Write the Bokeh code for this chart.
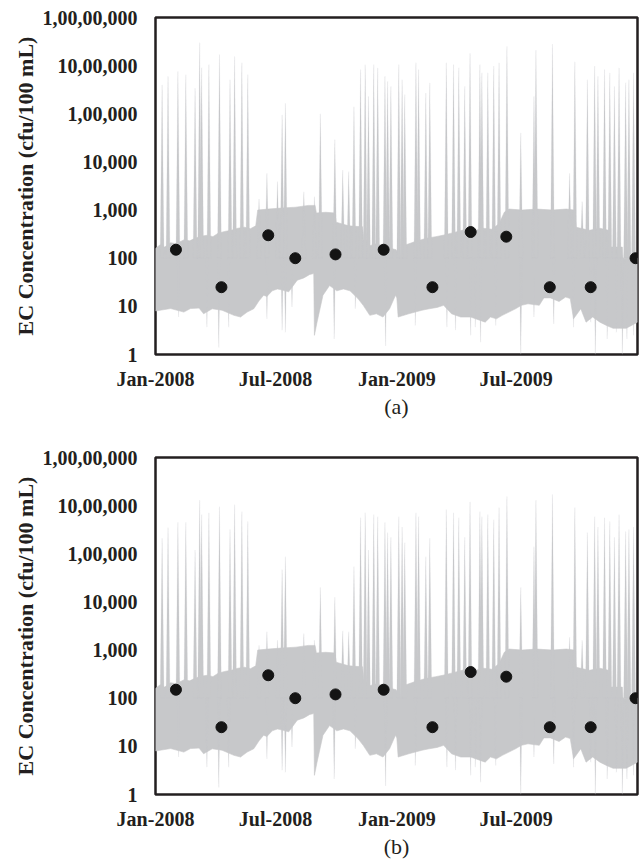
import numpy as np
import pandas as pd
from bokeh.plotting import figure
from bokeh.layouts import column
from bokeh.models import FixedTicker, CustomJSTickFormatter, DatetimeTickFormatter, Range1d
from bokeh.embed import file_html
from bokeh.resources import INLINE

# ---------------- data ----------------
# upper envelope of the simulated band (baseline, without the tall spikes)
UPPER_DATES = ["2008-01-01", "2008-01-08", "2008-01-15", "2008-01-24", "2008-02-01", "2008-02-13",
               "2008-02-22", "2008-03-01", "2008-03-12", "2008-03-20", "2008-03-28", "2008-04-05",
               "2008-04-15", "2008-04-25", "2008-05-05", "2008-05-15", "2008-05-24", "2008-06-01",
               "2008-06-04", "2008-06-20", "2008-07-10", "2008-08-01", "2008-08-20", "2008-08-30",
               "2008-09-01", "2008-09-15", "2008-09-29", "2008-10-01", "2008-10-20", "2008-11-10",
               "2008-11-12", "2008-11-20", "2008-12-01", "2008-12-15", "2008-12-31", "2009-01-06",
               "2009-01-15", "2009-01-28", "2009-02-15", "2009-03-01", "2009-03-12", "2009-03-28",
               "2009-04-10", "2009-04-20", "2009-05-01", "2009-05-12", "2009-05-25", "2009-06-05",
               "2009-06-13", "2009-06-20", "2009-07-10", "2009-08-01", "2009-08-25", "2009-09-15",
               "2009-09-27", "2009-09-30", "2009-10-20", "2009-11-05", "2009-11-18", "2009-11-20",
               "2009-12-09", "2009-12-10", "2010-01-01"]
UPPER_VALS = [160, 190, 170, 210, 200, 240,
              230, 260, 290, 300, 280, 330,
              360, 380, 420, 440, 410, 470,
              1000, 1050, 1100, 1150, 1250, 1250,
              870, 900, 870, 560, 470, 450,
              240, 180, 200, 170, 150, 100,
              190, 220, 260, 280, 300, 340,
              380, 420, 380, 420, 400, 520,
              900, 1050, 1000, 1050, 1000, 1050,
              1000, 440, 380, 420, 380, 170,
              170, 100, 100]

# lower envelope of the simulated band (baseline with its saw-tooth recoveries)
LOWER_DATES = ["2008-01-01", "2008-01-24", "2008-02-13", "2008-02-23", "2008-03-07", "2008-03-14",
               "2008-03-27", "2008-04-11", "2008-04-29", "2008-05-09", "2008-05-19", "2008-05-29",
               "2008-06-06", "2008-06-13", "2008-06-18", "2008-06-26", "2008-07-04", "2008-07-10",
               "2008-07-21", "2008-08-03", "2008-08-13", "2008-08-22", "2008-08-28", "2008-08-29",
               "2008-09-02", "2008-09-11", "2008-09-21", "2008-10-02", "2008-10-12", "2008-10-22",
               "2008-11-03", "2008-11-11", "2008-11-21", "2008-12-01", "2008-12-11", "2008-12-21",
               "2008-12-30", "2009-01-01", "2009-01-03", "2009-01-19", "2009-02-08", "2009-02-19",
               "2009-03-03", "2009-03-13", "2009-03-25", "2009-04-08", "2009-04-23", "2009-05-15",
               "2009-05-23", "2009-06-01", "2009-06-10", "2009-06-20", "2009-06-30", "2009-07-09",
               "2009-07-19", "2009-08-05", "2009-08-12", "2009-08-22", "2009-09-04", "2009-09-14",
               "2009-09-21", "2009-09-26", "2009-10-07", "2009-10-15", "2009-10-25", "2009-11-05",
               "2009-11-15", "2009-11-25", "2009-12-05", "2009-12-15", "2010-01-01"]
LOWER_VALS = [8, 9, 7.6, 9, 9.2, 7,
              8.9, 8.3, 6.5, 6, 7.6, 8.9,
              13, 17, 16, 21, 23, 22,
              20, 35, 39, 46, 48, 2.5,
              4.7, 17, 27, 21, 23, 21,
              14.5, 10.5, 6.5, 7, 6, 8.9,
              17, 15, 6, 7, 8.3, 8.9,
              9.5, 10.5, 7, 6, 6, 4.7,
              6, 5.5, 6.5, 7.6, 8.9, 10.5,
              11.3, 10.5, 15, 15, 12.6, 15.6,
              14.5, 5.5, 8.9, 4.7, 6, 4.7,
              4.0, 3.5, 3.5, 3.5, 4.7]

# narrow downward dips of the lower envelope
DIP_DATES = ["2008-02-05", "2008-03-19", "2008-04-06", "2008-04-21", "2008-06-18", "2008-07-11",
             "2008-07-16", "2008-07-26", "2008-09-28", "2008-10-30", "2008-12-15", "2009-01-29",
             "2009-03-18", "2009-03-31", "2009-04-23", "2009-04-30", "2009-05-08", "2009-05-31",
             "2009-07-08", "2009-07-28", "2009-08-27", "2009-09-26", "2009-10-22", "2009-10-29",
             "2009-11-16", "2009-11-30", "2009-12-09", "2009-12-16", "2009-12-26"]
DIP_VALS = [6, 3.7, 1.4, 3.7, 5.5, 3.2,
            2.9, 9.7, 2.1, 8.9, 1.5, 4,
            3.7, 3.2, 2.5, 3.7, 1.8, 4,
            1.0, 6, 4.3, 3.7, 4.7, 1.0,
            2.1, 2.9, 1.0, 2.1, 2.5]

# tall upward spikes of the upper envelope
SPIKE_DATES = ["2008-01-11", "2008-01-20", "2008-02-04", "2008-02-16", "2008-03-01", "2008-03-08",
               "2008-03-11", "2008-03-22", "2008-04-07", "2008-04-23", "2008-04-30", "2008-05-11",
               "2008-05-20", "2008-06-06", "2008-06-18", "2008-07-04", "2008-07-11", "2008-07-16",
               "2008-08-13", "2008-08-29", "2008-09-07", "2008-09-29", "2008-10-11", "2008-10-20",
               "2008-10-28", "2008-11-07", "2008-11-14", "2008-11-19", "2008-11-27", "2008-12-03",
               "2008-12-14", "2008-12-18", "2008-12-23", "2009-01-04",
               "2009-01-09", "2009-01-13", "2009-01-30", "2009-02-03", "2009-02-14", "2009-02-20",
               "2009-03-17", "2009-03-28", "2009-04-05", "2009-04-14", "2009-04-22", "2009-05-07",
               "2009-05-10", "2009-05-19", "2009-05-28", "2009-06-05", "2009-06-17", "2009-07-08",
               "2009-07-28", "2009-07-31", "2009-08-25", "2009-09-20", "2009-09-28", "2009-10-09",
               "2009-10-17", "2009-10-28", "2009-11-02", "2009-11-12", "2009-11-20", "2009-11-27",
               "2009-12-04", "2009-12-14", "2009-12-19", "2009-12-26"]
SPIKE_VALS_A = [4.0e5, 6.0e5, 7.6e5, 6.5e5, 3.4e5, 3.0e6, 9.0e5, 1.05e6, 1.7e6, 5.1e5, 1.55e6, 1.15e6,
                6.5e5, 1700, 5800, 3900, 95000, 1.65e5, 2400, 1900, 1.0e5, 29000, 6800, 6300,
                1.4e5, 8.3e5, 1.05e6, 2.3e5, 1.05e6, 9.0e5, 6.0e5, 4.7e5, 3.7e5, 1.05e6,
                5.1e5, 2.5e5, 1.15e6, 8.3e5, 2.7e5, 4.4e5, 1.15e6, 1.05e6, 9.0e5, 3.7e5, 1.8e6, 1.05e6,
                7.1e5, 7.1e5, 9.8e5, 1.15e6, 2.5e6, 40000, 2.3e5, 2.1e6, 2.8e6, 5800, 1.2e6, 1500,
                5.1e5, 9.8e5, 6.0e5, 8.3e5, 7.1e5, 3.7e5, 9.0e5, 4.4e5, 5.1e5, 7.1e5]
SPIKE_VALS_B = [2.1e5, 3.5e5, 4.5e5, 4.5e5, 1.2e5, 1.3e6, 6.5e5, 7.1e5, 9.5e5, 3.2e5, 1.05e6, 7.5e5,
                4.7e5, 1250, 2400, 1600, 47000, 87000, 2200, 1600, 20000, 12500, 2500, 2400,
                54000, 5.6e5, 7.1e5, 1.2e5, 6.5e5, 5.9e5, 4.5e5, 2.75e5, 2.2e5, 5.9e5,
                3.6e5, 1.7e5, 7.1e5, 5.9e5, 87000, 2.1e5, 8.3e5, 7.1e5, 5.6e5, 2.2e5, 1.2e6, 7.5e5,
                5.9e5, 6.5e5, 5.1e5, 9.1e5, 1.55e6, 20000, 1.4e5, 1.3e6, 1.7e6, 1850, 9.1e5, 1600,
                2.75e5, 5.9e5, 3.6e5, 5.6e5, 4.7e5, 2.2e5, 6.5e5, 2.9e5, 3.2e5, 3.6e5]

# observed concentrations (black dots)
OBS_DATES = ["2008-02-01", "2008-04-10", "2008-06-20", "2008-07-31", "2008-09-30", "2008-12-12",
             "2009-02-24", "2009-04-23", "2009-06-16", "2009-08-21", "2009-10-22", "2009-12-29"]
OBS_VALS = [150, 25, 300, 100, 120, 150, 25, 350, 280, 25, 25, 100]

Y_TICKS = [1, 10, 100, 1000, 10000, 100000, 1000000, 10000000]
Y_TICK_LABELS = ["1", "10", "100", "1,000", "10,000", "1,00,000", "10,00,000", "1,00,00,000"]
X_TICK_DATES = ["2008-01-01", "2008-07-01", "2009-01-01", "2009-07-01"]
X_START, X_END = "2008-01-01", "2010-01-01"
Y_LABEL = "EC Concentration (cfu/100 mL)"
PANEL_LABELS = ["(a)", "(b)"]

# ---------------- styling ----------------
GRAY = "#c7c8ca"
DOT = "#141414"
INK = "#231f20"
DAY_MS = 86400000.0
SPIKE_BASE = 100


def ms(dates):
    return (pd.to_datetime(dates).astype("int64") // 10**6).to_numpy().astype(float)


def make_panel(spike_vals, label, top_border, bottom_border, height):
    p = figure(width=640, height=height, x_axis_type="datetime", y_axis_type="log",
               x_range=Range1d(ms([X_START])[0], ms([X_END])[0]),
               y_range=Range1d(1, 1e7),
               output_backend="svg", toolbar_location=None,
               min_border_left=155, min_border_right=3,
               min_border_top=top_border, min_border_bottom=bottom_border)
    p.background_fill_color = "white"
    p.border_fill_color = "white"
    p.xgrid.visible = False
    p.ygrid.visible = False
    p.outline_line_color = INK
    p.outline_line_width = 2.5

    ux, lx = ms(UPPER_DATES), ms(LOWER_DATES)
    bx = np.concatenate([ux, lx[::-1]])
    by = np.concatenate([np.array(UPPER_VALS, float), np.array(LOWER_VALS, float)[::-1]])
    p.patch(bx, by, fill_color=GRAY, line_color=GRAY, line_width=0.6)

    w = 3.0 * DAY_MS
    sx = [[d - w, d, d + w] for d in ms(SPIKE_DATES)]
    sy = [[SPIKE_BASE, v, SPIKE_BASE] for v in spike_vals]
    p.patches(sx, sy, fill_color=GRAY, line_color=GRAY, line_width=0.3, line_alpha=0.6)

    w2 = 2.0 * DAY_MS
    dx = [[d - w2, d, d + w2] for d in ms(DIP_DATES)]
    dy = [[SPIKE_BASE, v, SPIKE_BASE] for v in DIP_VALS]
    p.patches(dx, dy, fill_color=GRAY, line_color=GRAY, line_width=0.3, line_alpha=0.6)

    p.scatter(ms(OBS_DATES), OBS_VALS, size=11, fill_color=DOT, line_color=DOT)

    xa, ya = p.xaxis[0], p.yaxis[0]
    for ax in (xa, ya):
        ax.axis_line_color = None
        ax.major_tick_line_color = None
        ax.minor_tick_line_color = None
        ax.major_tick_in = 0
        ax.major_tick_out = 0
        ax.minor_tick_in = 0
        ax.minor_tick_out = 0
        ax.major_label_text_font = "Liberation Serif"
        ax.major_label_text_font_style = "bold"
        ax.major_label_text_font_size = "20px"
        ax.major_label_text_color = INK

    xa.ticker = FixedTicker(ticks=list(ms(X_TICK_DATES)))
    fmt = "%b-%Y"
    xa.formatter = DatetimeTickFormatter(microseconds=fmt, milliseconds=fmt, seconds=fmt, minsec=fmt,
                                         minutes=fmt, hourmin=fmt, hours=fmt, days=fmt,
                                         months=fmt, years=fmt)
    xa.major_label_standoff = 13
    xa.axis_label = label
    xa.axis_label_text_font = "Liberation Serif"
    xa.axis_label_text_font_style = "normal"
    xa.axis_label_text_font_size = "22px"
    xa.axis_label_text_color = INK
    xa.axis_label_standoff = 1

    ya.ticker = FixedTicker(ticks=Y_TICKS, minor_ticks=[])
    ya.formatter = CustomJSTickFormatter(args=dict(labels=Y_TICK_LABELS),
                                         code="return labels[Math.round(Math.log10(tick))];")
    ya.major_label_standoff = 18
    ya.axis_label = Y_LABEL
    ya.axis_label_text_font = "Liberation Serif"
    ya.axis_label_text_font_style = "bold"
    ya.axis_label_text_font_size = "22px"
    ya.axis_label_text_color = INK
    ya.axis_label_standoff = 2
    return p


p1 = make_panel(SPIKE_VALS_A, PANEL_LABELS[0], 17, 68, 422)
p2 = make_panel(SPIKE_VALS_B, PANEL_LABELS[1], 35, 70, 442)
layout = column(p1, p2)

open("out.html", "w").write(file_html(layout, INLINE))
